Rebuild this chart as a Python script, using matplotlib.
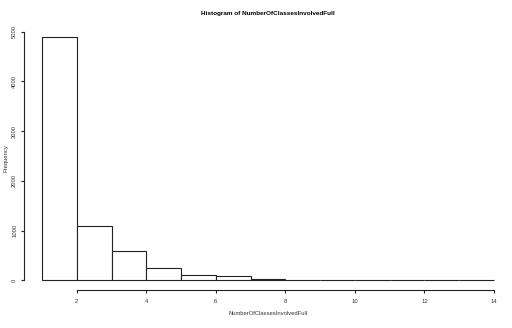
import matplotlib
matplotlib.use("Agg")
import matplotlib.pyplot as plt

# histogram bins (R hist style) and counts
edges = [1, 2, 3, 4, 5, 6, 7, 8, 9, 10, 11, 12, 13, 14]
counts = [4900, 1095, 580, 245, 105, 85, 35, 15, 7, 5, 2, 1, 1]
xticks = [2, 4, 6, 8, 10, 12, 14]
yticks = [0, 1000, 2000, 3000, 4000, 5000]

plt.rcParams['font.family'] = ['Liberation Sans', 'DejaVu Sans']

fig = plt.figure(figsize=(5.12, 3.28), dpi=100)
ax = fig.add_axes([24 / 512, 38 / 328, 488 / 512, 263 / 328])

ax.bar(edges[:-1], counts, width=1, align='edge', facecolor='white',
       edgecolor='#222222', linewidth=0.8)

# R style: 4% range extension, detached axes
xr = edges[-1] - edges[0]
ax.set_xlim(edges[0] - 0.04 * xr, edges[-1] + 0.04 * xr)
ymax = max(counts)
ax.set_ylim(-0.04 * ymax, 1.04 * ymax)

for s in ['top', 'right']:
    ax.spines[s].set_visible(False)
ax.spines['left'].set_bounds(yticks[0], yticks[-1])
ax.spines['bottom'].set_bounds(xticks[0], xticks[-1])
for s in ['left', 'bottom']:
    ax.spines[s].set_linewidth(0.8)
    ax.spines[s].set_color('#222222')

ax.set_xticks(xticks)
ax.set_yticks(yticks)
ax.set_yticklabels([str(v) for v in yticks], rotation=90, va='center')
ax.tick_params(length=2.5, width=0.8, color='#222222', labelsize=4.2,
               labelcolor='#333333')
ax.tick_params(axis='x', pad=4)
ax.tick_params(axis='y', pad=2.5)

ax.set_title('Histogram of NumberOfClassesInvolvedFull', fontsize=4.6,
             fontweight='bold', pad=8.5)
ax.set_xlabel('NumberOfClassesInvolvedFull', fontsize=4.2, labelpad=5,
              color='#333333')
ax.set_ylabel('Frequency', fontsize=4.2, labelpad=2.5, color='#333333')

fig.savefig('out.png', dpi=100)
